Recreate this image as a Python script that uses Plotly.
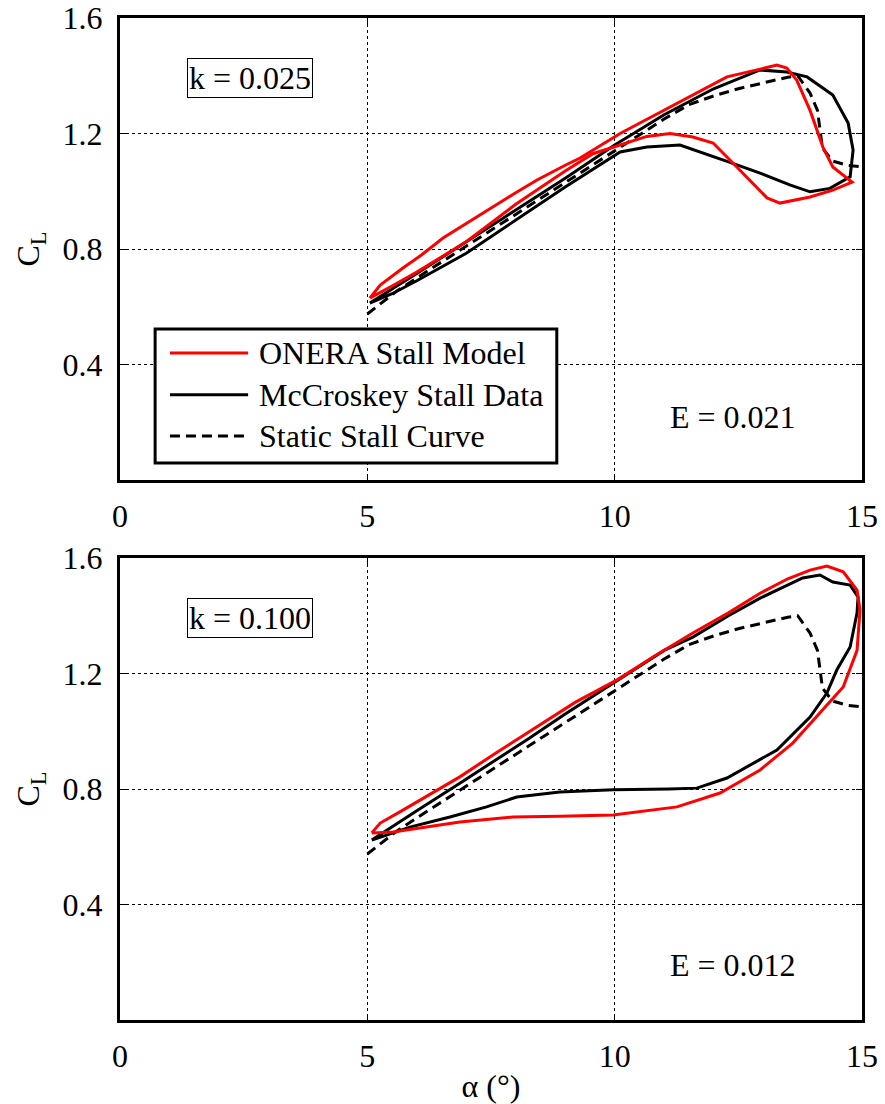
import plotly.graph_objects as go

# ---------------- data ----------------
static_alpha = [5.0, 5.3, 5.6, 6.0, 6.5, 7.0, 7.5, 8.0, 8.5, 9.0, 9.5, 10.0, 10.5, 11.0,
                11.5, 12.0, 12.5, 13.0, 13.5, 13.7, 13.95, 14.1, 14.2, 14.4, 14.7, 15.0]
static_cl = [0.575, 0.615, 0.655, 0.700, 0.755, 0.810, 0.865, 0.920, 0.975, 1.030, 1.085,
             1.140, 1.195, 1.250, 1.300, 1.330, 1.355, 1.375, 1.395, 1.400, 1.340, 1.280,
             1.150, 1.105, 1.090, 1.085]

# k = 0.025
mc1_alpha = [5.05, 5.5, 6.0, 7.0, 8.0, 9.0, 10.0, 11.0, 12.0, 12.5, 12.94, 13.48, 13.89,
             14.41, 14.72, 14.82, 14.76, 14.35, 13.95, 13.54, 12.94, 12.33, 11.32, 10.65,
             10.11, 9.0, 8.0, 7.0, 6.0, 5.5, 5.05]
mc1_cl = [0.613, 0.66, 0.715, 0.825, 0.935, 1.045, 1.160, 1.265, 1.355, 1.39, 1.42, 1.413,
          1.396, 1.333, 1.236, 1.143, 1.05, 1.01, 0.998, 1.022, 1.063, 1.10, 1.16, 1.153,
          1.136, 1.015, 0.900, 0.785, 0.690, 0.645, 0.613]

on1_alpha = [5.05, 5.26, 5.72, 6.1, 6.53, 7.0, 7.34, 8.0, 8.43, 9.0, 9.3, 10.11, 11.0,
             11.58, 12.27, 12.94, 13.28, 13.48, 13.68, 13.95, 14.21, 14.41, 14.8, 14.41,
             13.95, 13.34, 13.08, 12.47, 11.99, 11.58, 11.12, 10.65, 10.11, 9.56, 9.0,
             8.0, 7.0, 6.0, 5.5, 5.05]
on1_cl = [0.63, 0.675, 0.734, 0.78, 0.838, 0.89, 0.925, 0.995, 1.039, 1.09, 1.115, 1.20,
          1.28, 1.333, 1.396, 1.423, 1.437, 1.427, 1.385, 1.28, 1.153, 1.084, 1.032,
          1.004, 0.98, 0.959, 0.977, 1.084, 1.167, 1.188, 1.20, 1.19, 1.16, 1.13, 1.07,
          0.955, 0.825, 0.72, 0.672, 0.63]

# k = 0.100
mc2_alpha = [5.09, 5.5, 6.0, 6.87, 7.5, 8.22, 9.0, 9.97, 11.0, 11.58, 12.3, 12.94, 13.4,
             13.8, 14.15, 14.41, 14.76, 14.92, 14.9, 14.76, 14.49, 14.29, 13.95, 13.28,
             12.27, 11.66, 11.1, 9.97, 8.89, 8.02, 7.41, 6.67, 5.86, 5.09]
mc2_cl = [0.623, 0.67, 0.725, 0.82, 0.89, 0.97, 1.06, 1.167, 1.28, 1.326, 1.40, 1.461,
          1.50, 1.531, 1.541, 1.517, 1.506, 1.465, 1.41, 1.292, 1.212, 1.132, 1.049,
          0.935, 0.838, 0.803, 0.80, 0.797, 0.79, 0.772, 0.738, 0.703, 0.668, 0.623]

on2_alpha = [5.09, 5.26, 5.72, 6.3, 6.87, 7.6, 8.43, 9.2, 10.05, 10.8, 11.58, 12.3, 12.94,
             13.5, 13.95, 14.29, 14.62, 14.9, 14.96, 14.9, 14.62, 14.15, 13.6, 12.94,
             12.13, 11.26, 9.97, 8.89, 7.94, 6.87, 6.2, 5.52, 5.09]
on2_cl = [0.648, 0.682, 0.727, 0.785, 0.842, 0.925, 1.015, 1.10, 1.178, 1.26, 1.34, 1.41,
          1.478, 1.528, 1.558, 1.572, 1.552, 1.489, 1.42, 1.28, 1.153, 1.063, 0.959,
          0.866, 0.786, 0.738, 0.71, 0.706, 0.703, 0.686, 0.668, 0.651, 0.648]

x_ticks = [0, 5, 10, 15]
y_ticks = [0.4, 0.8, 1.2, 1.6]
y_tick_text = ["0.4", "0.8", "1.2", "1.6"]
legend_names = ["ONERA Stall Model", "McCroskey Stall Data", "Static Stall Curve"]
k_labels = ["k = 0.025", "k = 0.100"]
e_labels = ["E = 0.021", "E = 0.012"]

# ---------------- figure ----------------
FONT = "Liberation Serif, Times New Roman, serif"
FS = 32
RED = "#ff0000"
LW = 3

fig = go.Figure()

panels = [
    ("x", "y", on1_alpha, on1_cl, mc1_alpha, mc1_cl),
    ("x2", "y2", on2_alpha, on2_cl, mc2_alpha, mc2_cl),
]
for xa, ya, oa, oc, ma, mcl in panels:
    fig.add_trace(go.Scatter(x=static_alpha, y=static_cl, mode="lines", xaxis=xa, yaxis=ya,
                             name=legend_names[2], showlegend=False,
                             line=dict(color="black", width=LW, dash="10px,6px")))
    fig.add_trace(go.Scatter(x=ma, y=mcl, mode="lines", xaxis=xa, yaxis=ya,
                             name=legend_names[1], showlegend=False,
                             line=dict(color="black", width=LW)))
    fig.add_trace(go.Scatter(x=oa, y=oc, mode="lines", xaxis=xa, yaxis=ya,
                             name=legend_names[0], showlegend=False,
                             line=dict(color=RED, width=LW)))

axis_common = dict(
    showline=True, linecolor="black", linewidth=3, mirror="ticks",
    ticks="inside", ticklen=6, tickwidth=1, tickcolor="black",
    showgrid=True, gridcolor="black", gridwidth=1, griddash="dot",
    zeroline=False, automargin=False, ticklabeloverflow="allow",
    tickfont=dict(family=FONT, size=FS, color="black"),
)

# the page body adds an 8px offset; plot area spans x 120..862, panels y 18..480 / 558..1020
top_dom = [(1020 - 480) / 1002, 1.0]
bot_dom = [0.0, (1020 - 558) / 1002]

fig.update_layout(
    width=877, height=1096,
    margin=dict(l=112, r=23, t=10, b=84),
    paper_bgcolor="white", plot_bgcolor="white",
    showlegend=False,
    font=dict(family=FONT, size=FS, color="black"),
    xaxis=dict(axis_common, range=[0, 15], tickvals=x_ticks, anchor="y",
               domain=[0, 1], ticklabelstandoff=6),
    yaxis=dict(axis_common, range=[0, 1.6], tickvals=y_ticks, ticktext=y_tick_text,
               domain=top_dom, anchor="x", ticklabelstandoff=8,
               title=dict(text="C<sub>L</sub>", font=dict(family=FONT, size=FS), standoff=14)),
    xaxis2=dict(axis_common, range=[0, 15], tickvals=x_ticks, anchor="y2",
                domain=[0, 1], ticklabelstandoff=6,
                title=dict(text="α (°)", font=dict(family=FONT, size=FS), standoff=4)),
    yaxis2=dict(axis_common, range=[0, 1.6], tickvals=y_ticks, ticktext=y_tick_text,
                domain=bot_dom, anchor="x2", ticklabelstandoff=8,
                title=dict(text="C<sub>L</sub>", font=dict(family=FONT, size=FS), standoff=14)),
)

# k and E annotations
for (xr, yr), kl, el, ey in [(("x", "y"), k_labels[0], e_labels[0], 0.218),
                             (("x2", "y2"), k_labels[1], e_labels[1], 0.19)]:
    fig.add_annotation(x=2.63, y=1.392, xref=xr, yref=yr, text=kl, showarrow=False,
                       font=dict(family=FONT, size=FS, color="black"),
                       bordercolor="black", borderwidth=1, borderpad=1, bgcolor="white")
    fig.add_annotation(x=12.4, y=ey, xref=xr, yref=yr, text=el, showarrow=False,
                       font=dict(family=FONT, size=FS, color="black"))

# manual legend (top panel), drawn in data coordinates
fig.add_shape(type="rect", xref="x", yref="y", x0=0.71, x1=8.83, y0=0.059, y1=0.523,
              line=dict(color="black", width=3), fillcolor="white", layer="above")
leg_rows = [0.44, 0.295, 0.152]
leg_styles = [dict(color=RED, width=LW), dict(color="black", width=LW),
              dict(color="black", width=LW, dash="10px,6px")]
for name, yy, st in zip(legend_names, leg_rows, leg_styles):
    fig.add_shape(type="line", xref="x", yref="y", x0=1.01, x1=2.59, y0=yy, y1=yy,
                  line=st, layer="above")
    fig.add_annotation(x=2.77, y=yy, xref="x", yref="y", text=name, showarrow=False,
                       xanchor="left", yanchor="middle",
                       font=dict(family=FONT, size=FS, color="black"))

fig.write_html("out.html")
